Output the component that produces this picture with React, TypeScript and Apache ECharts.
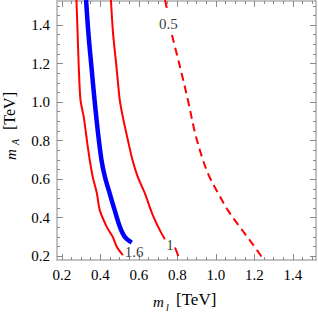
import React, { useEffect, useRef } from "react";
import * as echarts from "echarts";

// axis ranges and ticks
const xRange = [0.175, 1.52];
const yRange = [0.18, 1.525];
const majorTicks = [0.2, 0.4, 0.6, 0.8, 1.0, 1.2, 1.4];
const minorTicks = [0.25, 0.3, 0.35, 0.45, 0.5, 0.55, 0.65, 0.7, 0.75, 0.85, 0.9, 0.95, 1.05, 1.1, 1.15, 1.25, 1.3, 1.35, 1.45, 1.5];

// contour 1.6 (red solid, left)
const c16X = [0.276, 0.282, 0.288, 0.297, 0.314, 0.330, 0.345, 0.361, 0.382, 0.397, 0.434, 0.465, 0.486, 0.517];
const c16Y = [1.53, 1.358, 1.182, 1.010, 0.922, 0.803, 0.699, 0.610, 0.527, 0.439, 0.351, 0.299, 0.247, 0.205];

// blue contour
const blueX = [0.326, 0.338, 0.354, 0.370, 0.388, 0.406, 0.424, 0.448, 0.474, 0.502, 0.528, 0.563];
const blueY = [1.53, 1.359, 1.182, 1.011, 0.840, 0.699, 0.611, 0.528, 0.440, 0.351, 0.299, 0.270];

// contour 1 (red solid, middle) - null break for the label
const c1X = [0.455, 0.466, 0.484, 0.501, 0.517, 0.543, 0.567, 0.595, 0.631, 0.668, 0.709, 0.735, null, 0.788, 0.805];
const c1Y = [1.53, 1.358, 1.182, 1.010, 0.922, 0.803, 0.699, 0.610, 0.527, 0.424, 0.335, 0.288, null, 0.245, 0.200];

// contour 0.5 (red dashed) - null break for the label
const c05X = [0.736, 0.749, null, 0.772, 0.814, 0.855, 0.892, 0.933, 0.967, 1.011, 1.062, 1.125, 1.187, 1.239];
const c05Y = [1.53, 1.47, null, 1.348, 1.182, 1.010, 0.840, 0.699, 0.611, 0.528, 0.439, 0.351, 0.268, 0.195];

// contour labels
const labelText = ["0.5", "1", "1.6"];
const labelX = [0.754, 0.762, 0.575];
const labelY = [1.403, 0.260, 0.224];

const zip = (xs: (number | null)[], ys: (number | null)[]) =>
  xs.map((x, i) => (x === null ? [null, null] : [x, ys[i]]));

const FONT = "Liberation Serif";
const FRAME = "#b0b0b0";
const TICK = "#888888";

function makeAxis(kind: "x" | "y", position: string, ticks: number[], len: number, labels: boolean, line: boolean) {
  const r = kind === "x" ? xRange : yRange;
  return {
    type: "value",
    position,
    min: r[0],
    max: r[1],
    splitLine: { show: false },
    axisLine: { show: line, onZero: false, lineStyle: { color: FRAME, width: 1.5 } },
    axisTick: { show: true, inside: true, length: len, customValues: ticks, lineStyle: { color: TICK, width: 1 } },
    axisLabel: {
      show: labels,
      customValues: ticks,
      formatter: (v: number) => v.toFixed(1),
      fontFamily: FONT,
      fontSize: 15,
      color: "#000",
      margin: 7,
    },
  };
}

export default function App() {
  const ref = useRef<HTMLDivElement>(null);
  useEffect(() => {
    document.body.style.margin = "0";
    const chart = echarts.init(ref.current!, null, { renderer: "svg" });
    const lineBase = { type: "line", showSymbol: false, symbol: "none", smooth: 0.25, connectNulls: false, clip: true, xAxisIndex: 0, yAxisIndex: 0 };
    chart.setOption({
      animation: false,
      textStyle: { fontFamily: FONT, color: "#000" },
      grid: { left: 57, right: 2, top: 1, bottom: 55, containLabel: false },
      xAxis: [
        makeAxis("x", "bottom", majorTicks, 6, true, true),
        makeAxis("x", "bottom", minorTicks, 3, false, false),
        makeAxis("x", "top", majorTicks, 6, false, true),
        makeAxis("x", "top", minorTicks, 3, false, false),
      ],
      yAxis: [
        makeAxis("y", "left", majorTicks, 6, true, true),
        makeAxis("y", "left", minorTicks, 3, false, false),
        makeAxis("y", "right", majorTicks, 6, false, true),
        makeAxis("y", "right", minorTicks, 3, false, false),
      ],
      series: [
        { ...lineBase, name: "1.6", data: zip(c16X, c16Y), lineStyle: { color: "#ff0000", width: 2 } },
        { ...lineBase, name: "blue", smooth: 0.35, data: zip(blueX, blueY), lineStyle: { color: "#0000ff", width: 4.5, cap: "butt" } },
        { ...lineBase, name: "1", data: zip(c1X, c1Y), lineStyle: { color: "#ff0000", width: 2 } },
        { ...lineBase, name: "0.5", smooth: 0.35, data: zip(c05X, c05Y), lineStyle: { color: "#ff0000", width: 2, type: [8, 5] } },
        {
          type: "scatter",
          xAxisIndex: 0,
          yAxisIndex: 0,
          symbolSize: 0,
          itemStyle: { color: "#000" },
          data: labelText.map((t, i) => ({ value: [labelX[i], labelY[i]], name: t })),
          label: {
            show: true,
            position: "inside",
            formatter: (p: any) => p.name,
            fontFamily: FONT,
            fontSize: 15,
            color: "#000",
          },
        },
      ],
      graphic: [
        { type: "text", left: 153, top: 294, style: { text: "m", font: `italic 15px "${FONT}"`, fill: "#000" } },
        { type: "text", left: 166, top: 302, style: { text: "l", font: `italic 10px "${FONT}"`, fill: "#000" } },
        { type: "text", left: 176, top: 291, style: { text: "[TeV]", font: `17px "${FONT}"`, fill: "#000" } },
        {
          type: "group",
          x: 16,
          y: 160,
          rotation: Math.PI / 2,
          children: [
            { type: "text", x: 0, y: -13, style: { text: "m", font: `italic 15px "${FONT}"`, fill: "#000" } },
            { type: "text", x: 15, y: -6, style: { text: "A", font: `italic 10px "${FONT}"`, fill: "#000" } },
            { type: "text", x: 30, y: -15, style: { text: "[TeV]", font: `16px "${FONT}"`, fill: "#000" } },
          ],
        },
      ],
    });
    return () => chart.dispose();
  }, []);
  return <div ref={ref} style={{ width: 318, height: 315 }} />;
}
